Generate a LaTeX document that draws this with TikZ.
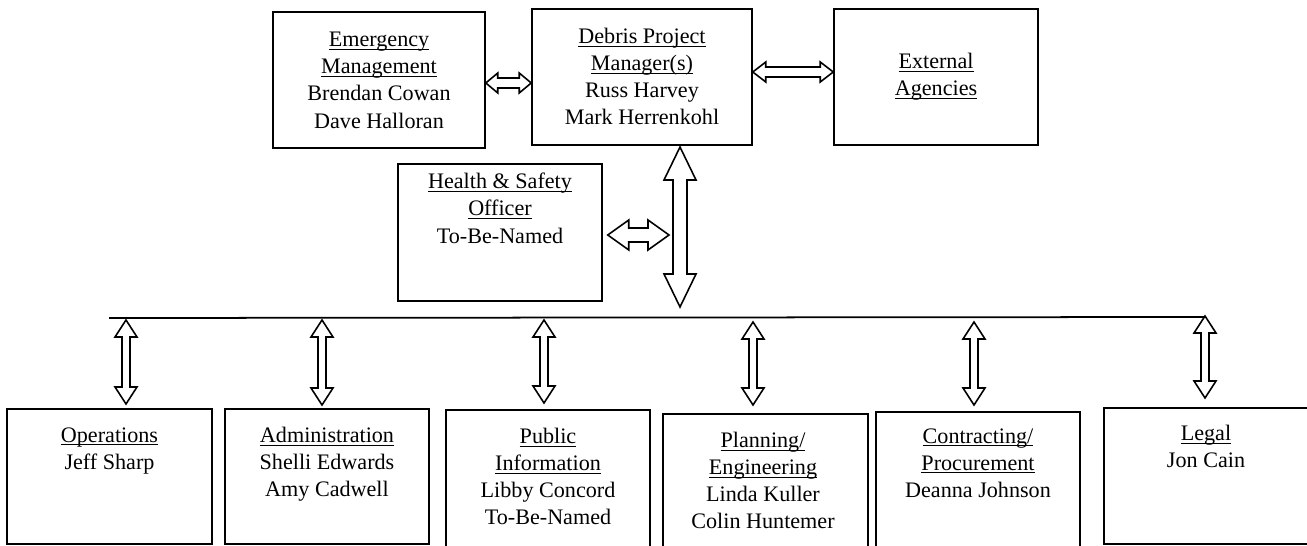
\documentclass[tikz,border=0pt]{standalone}
\usepackage{fontspec}
\setmainfont{Liberation Serif}
\usetikzlibrary{calc}
\newcommand{\hdr}[1]{\sbox0{#1}\rlap{\rule[-1.7pt]{\wd0}{0.6pt}}\usebox0}
% vertical double block arrow: top, bottom, shaft half, head half, head length
\newcommand{\vdarrow}[5]{%
  \draw[blockarrow] (#1) -- ($(#1)+(#4,#5)$) -- ($(#1)+(#3,#5)$) -- ($(#2)+(#3,-#5)$)
    -- ($(#2)+(#4,-#5)$) -- (#2) -- ($(#2)+(-#4,-#5)$) -- ($(#2)+(-#3,-#5)$)
    -- ($(#1)+(-#3,#5)$) -- ($(#1)+(-#4,#5)$) -- cycle;}
% horizontal double block arrow: left, right, shaft half, head half, head length
\newcommand{\hdarrow}[5]{%
  \draw[blockarrow] (#1) -- ($(#1)+(#5,-#4)$) -- ($(#1)+(#5,-#3)$) -- ($(#2)+(-#5,-#3)$)
    -- ($(#2)+(-#5,-#4)$) -- (#2) -- ($(#2)+(-#5,#4)$) -- ($(#2)+(-#5,#3)$)
    -- ($(#1)+(#5,#3)$) -- ($(#1)+(#5,#4)$) -- cycle;}
\begin{document}
\begin{tikzpicture}[x=0.02cm, y=-0.02cm, line join=miter,
    box/.style={draw, line width=0.9pt, inner sep=0pt},
    txt/.style={anchor=north, inner sep=0pt, align=center,
      font=\fontsize{12.6}{15.4}\selectfont},
    blockarrow/.style={draw, line width=0.9pt, fill=white},
    bus/.style={line width=1pt}]
  \clip (0,0) rectangle (1307,546);
  % top row
  \node[box, minimum width=4.24cm, minimum height=2.72cm] (em) at (379,80) {};
  \node[box, minimum width=4.40cm, minimum height=2.72cm] (dpm) at (642,77) {};
  \node[box, minimum width=4.08cm, minimum height=2.72cm] (ext) at (936,77) {};
  \node[box, minimum width=4.08cm, minimum height=2.74cm] (hs) at (500,232.5) {};
  \node[txt] (emT) at (379,32) {\hdr{Emergency}\\\hdr{Management}\\Brendan Cowan\\Dave Halloran};
  \node[txt] (dpmT) at (642,28) {\hdr{Debris Project}\\\hdr{Manager(s)}\\Russ Harvey\\Mark Herrenkohl};
  \node[txt] (extT) at (936,53) {\hdr{External}\\\hdr{Agencies}};
  \node[txt] (hsT) at (500,173) {\hdr{Health \& Safety}\\\hdr{Officer}\\To-Be-Named};
  \coordinate (a1L) at ($(em.east)+(0,3)$);
  \coordinate (a1R) at ($(dpm.west)+(0,6)$);
  \coordinate (a2L) at ($(dpm.east)+(0,-5)$);
  \coordinate (a2R) at ($(ext.west)+(0,-5)$);
  \coordinate (vTop) at (680,147);
  \coordinate (vBot) at (680,307);
  \coordinate (a3L) at ($(hs.east)+(5,2.5)$);
  \coordinate (a3R) at (669,235);
  \hdarrow{a1L}{a1R}{5}{10}{12}
  \hdarrow{a2L}{a2R}{5}{10}{13}
  \hdarrow{a3L}{a3R}{7}{15}{21}
  \vdarrow{vTop}{vBot}{7}{16}{33}
  % bus
  \coordinate (busL) at (109,318);
  \coordinate (busR) at (1205,317);
  \draw[bus] (busL) -- (busR);
  % bottom row
  \node[box, minimum width=4.10cm, minimum height=2.70cm] (ops) at (109.5,476.5) {};
  \node[box, minimum width=4.08cm, minimum height=2.70cm] (adm) at (327,476.5) {};
  \node[box, minimum width=4.08cm, minimum height=2.80cm] (pub) at (548,480) {};
  \node[box, minimum width=4.10cm, minimum height=2.80cm] (plan) at (765.5,484) {};
  \node[box, minimum width=4.08cm, minimum height=2.80cm] (contr) at (978,482) {};
  \node[box, minimum width=4.08cm, minimum height=2.72cm] (legal) at (1206,476) {};
  \node[txt] (opsT) at (109.5,427) {\hdr{Operations}\\Jeff Sharp};
  \node[txt] (admT) at (327,427) {\hdr{Administration}\\Shelli Edwards\\Amy Cadwell};
  \node[txt] (pubT) at (548,428) {\hdr{Public}\\\hdr{Information}\\Libby Concord\\To-Be-Named};
  \node[txt] (planT) at (763,432) {\hdr{Planning/}\\\hdr{Engineering}\\Linda Kuller\\Colin Huntemer};
  \node[txt] (contrT) at (978,428) {\hdr{Contracting/}\\\hdr{Procurement}\\Deanna Johnson};
  \node[txt] (legalT) at (1206,425) {\hdr{Legal}\\Jon Cain};
  \foreach \n/\x/\t/\b in {o/126/320/404, a/322/320/405, p/544/320/403,
      e/753/322/405, c/974/322/405, l/1205/316/398} {
    \coordinate (\n Top) at (\x,\t);
    \coordinate (\n Bot) at (\x,\b);
    \vdarrow{\n Top}{\n Bot}{4}{11}{17}
  }
\end{tikzpicture}
\end{document}
